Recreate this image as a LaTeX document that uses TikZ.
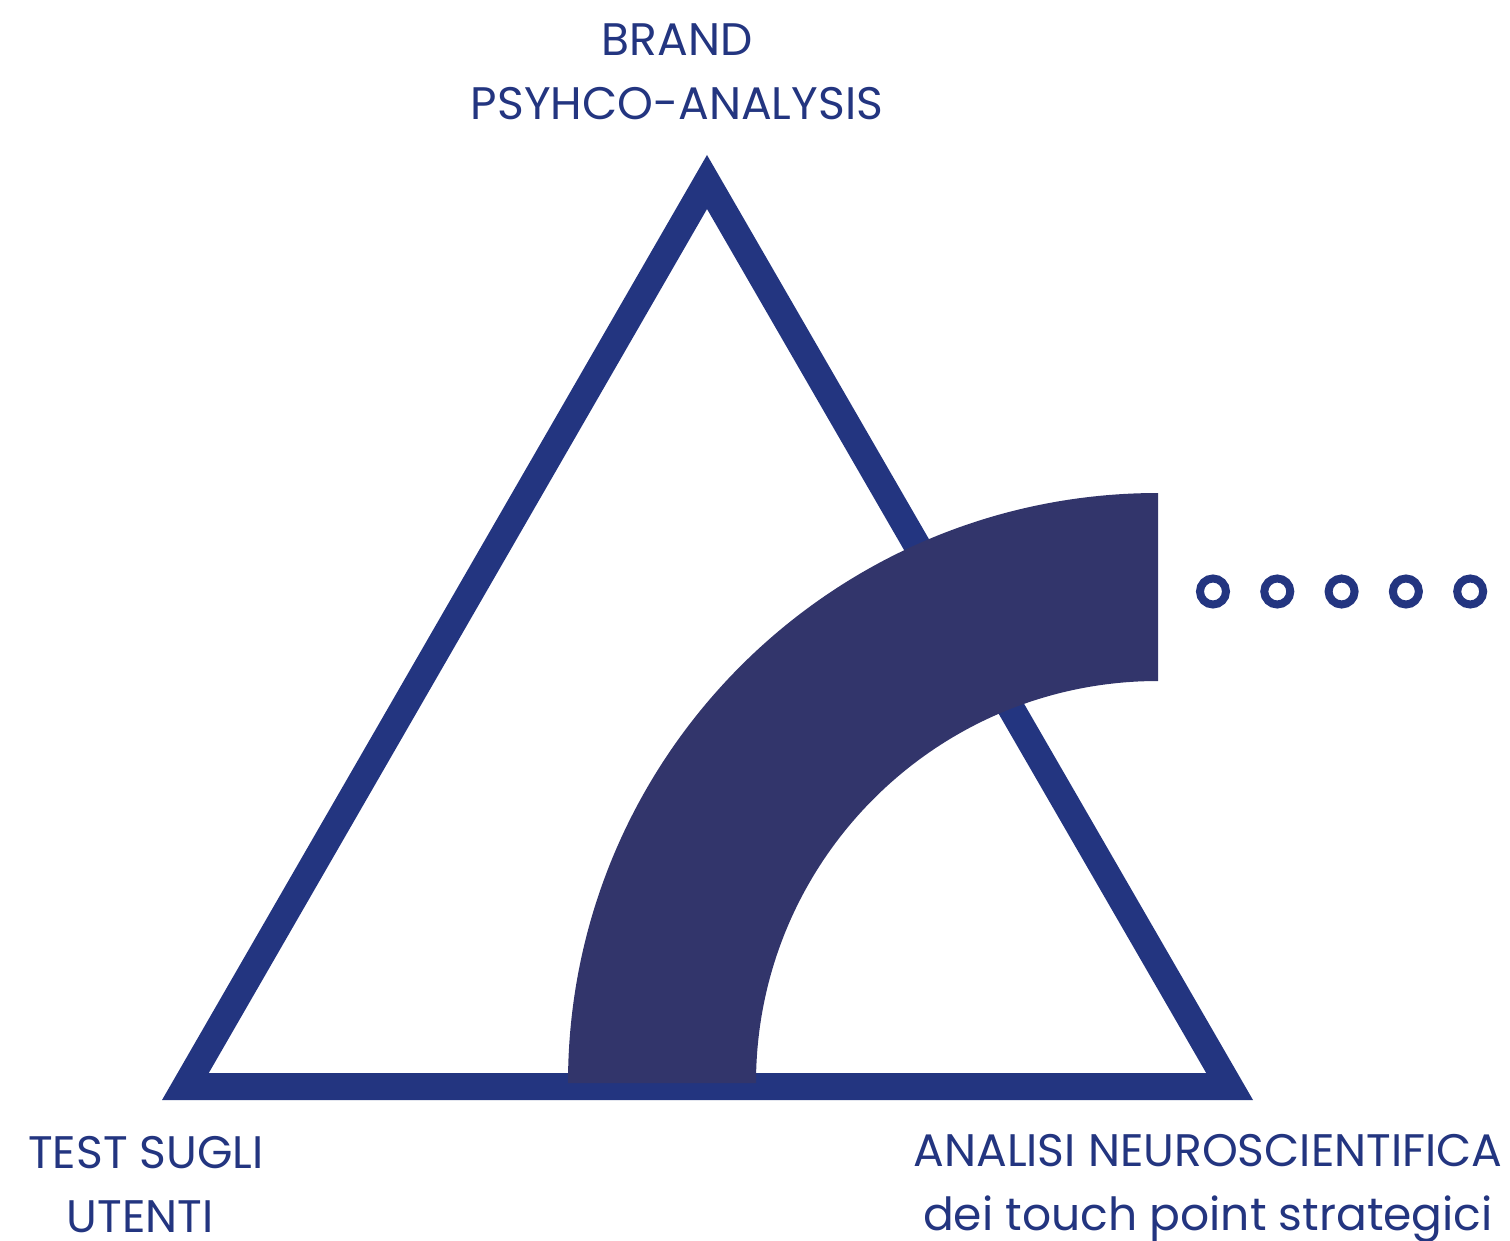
\documentclass[tikz,border=0pt]{standalone}
\usepackage{fontspec}
\setmainfont{Poppins}
\usepackage{tikz}
\definecolor{triblue}{RGB}{35,53,128}
\definecolor{bandblue}{RGB}{50,53,107}

\begin{document}
\begin{tikzpicture}[x=0.75pt,y=0.75pt,yscale=-1,xscale=1]
\path[use as bounding box] (0,0) rectangle (1510,1241);

%Triangle
\draw [color=triblue, line width=20.25pt, line join=miter]  (707,182) -- (1229.6,1086.5) -- (185.4,1086.5) -- cycle ;
%Quarter band
\fill [color=bandblue]  (568,1083) arc (180:270:590) -- (1158,681) arc (270:180:402) -- cycle ;
%Dots
\foreach \i in {0,...,4}
  \draw [color=triblue, line width=6pt]  (1213+64.3*\i,591.5) circle (13) ;

% Text Node
\node (brand) [anchor=base, align=center, inner sep=0pt, text=triblue, font=\fontsize{34.2}{48}\selectfont] at (677,120) {BRAND\\PSYHCO-ANALYSIS};
% Text Node
\node (test) [anchor=base, align=center, inner sep=0pt, text=triblue, font=\fontsize{34.2}{48}\selectfont] at (146,1232) {TEST SUGLI\\UTENTI\hspace*{9pt}};
% Text Node
\node (neuro) [anchor=base, align=center, inner sep=0pt, text=triblue, font=\fontsize{34.2}{48}\selectfont] at (1208,1230) {ANALISI NEUROSCIENTIFICA\\dei touch point strategici};

\end{tikzpicture}
\end{document}
